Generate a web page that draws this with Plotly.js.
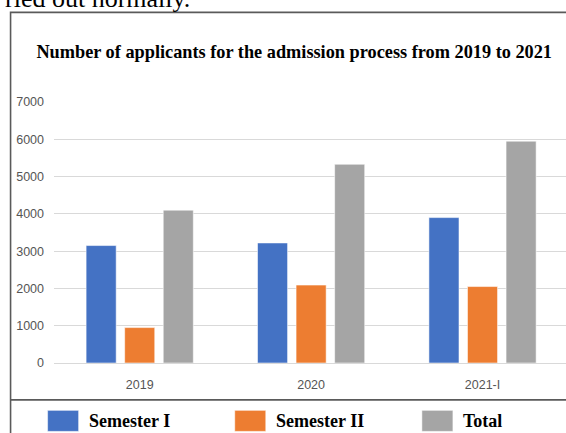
<!DOCTYPE html>
<html>
<head>
<meta charset="utf-8">
<script src="https://cdn.plot.ly/plotly-3.0.1.min.js"></script>
<style>html,body{margin:0;padding:0;background:#fff;}#chart{width:566px;height:433px;}</style>
</head>
<body>
<div id="chart"></div>
<script>
// ---- data ----
const categories = ["2019", "2020", "2021-I"];
const seriesNames = ["Semester I", "Semester II", "Total"];
const semester1 = [3150, 3220, 3900];
const semester2 = [950, 2090, 2050];
const total = [4100, 5330, 5950];
const yTicks = [0, 1000, 2000, 3000, 4000, 5000, 6000, 7000];
const colors = ["#4472C4", "#ED7D31", "#A5A5A5"];
const titleText = "Number of applicants for the admission process from 2019 to 2021";
const topText = "ried out normally.";

// ---- geometry helpers (pixel -> paper) ----
const W = 566, H = 433;
const M = {l: 54.4, r: 0, t: 102, b: 70.3};
const PW = W - M.l - M.r, PH = H - M.t - M.b;
const px = x => (x - M.l) / PW;
const py = y => (H - M.b - y) / PH;

const values = [semester1, semester2, total];
const traces = values.map((v, i) => ({
  type: "bar",
  name: seriesNames[i],
  x: categories,
  y: v,
  marker: {color: colors[i], line: {color: "rgba(255,255,255,0.55)", width: 1}},
  showlegend: false,
  hoverinfo: "x+y+name"
}));

const tickFont = {family: "Liberation Sans, Arial, sans-serif", size: 12.5, color: "#555555"};

// custom legend (large swatches as in the reference)
const legendSwatchX = [48, 235, 422];
const shapes = [
  // outer border of chart box
  {type: "rect", xref: "paper", yref: "paper", x0: px(11), x1: px(590), y0: py(12.5), y1: py(460),
   line: {color: "#5a5a5a", width: 1.6}, fillcolor: "rgba(0,0,0,0)", layer: "below"},
  // separator above legend
  {type: "line", xref: "paper", yref: "paper", x0: px(11), x1: px(590), y0: py(399.5), y1: py(399.5),
   line: {color: "#5a5a5a", width: 1.6}}
];
const annotations = [
  {text: topText, xref: "paper", yref: "paper", x: px(3), y: py(-1), xanchor: "left", yanchor: "middle",
   showarrow: false, font: {family: "Liberation Serif, Times New Roman, serif", size: 26, color: "#000"}}
];
seriesNames.forEach((n, i) => {
  const x0 = legendSwatchX[i];
  shapes.push({type: "rect", xref: "paper", yref: "paper", x0: px(x0), x1: px(x0 + 31), y0: py(410), y1: py(431),
    fillcolor: colors[i], line: {color: "rgba(255,255,255,0.5)", width: 1}});
  annotations.push({text: n, xref: "paper", yref: "paper", x: px(x0 + 39), y: py(421), xanchor: "left", yanchor: "middle",
    showarrow: false, font: {family: "Liberation Serif, Times New Roman, serif", size: 18, color: "#000", weight: "bold"}});
});

const layout = {
  width: W, height: H,
  margin: M,
  paper_bgcolor: "#fff", plot_bgcolor: "#fff",
  title: {text: "<b>" + titleText + "</b>", xref: "container", yref: "container",
          x: 294.2 / W, y: 1 - 52 / H, xanchor: "center", yanchor: "middle",
          font: {family: "Liberation Serif, Times New Roman, serif", size: 18.3, color: "#000"}},
  barmode: "group",
  bargap: 0.325,
  bargroupgap: 0.22,
  xaxis: {type: "category", range: [-0.5, 2.487], showgrid: false, zeroline: false, showline: false,
          ticks: "", tickfont: tickFont, ticklabelstandoff: 12, fixedrange: true},
  yaxis: {range: [0, 7000], tickvals: yTicks, ticktext: yTicks.map(String), showgrid: true, gridcolor: "#D9D9D9",
          gridwidth: 1, zeroline: true, zerolinecolor: "#D9D9D9", zerolinewidth: 1, showline: false,
          ticks: "", tickfont: tickFont, ticklabelstandoff: 9, fixedrange: true},
  shapes: shapes,
  annotations: annotations
};

Plotly.newPlot("chart", traces, layout, {displayModeBar: false, staticPlot: true});
</script>
</body>
</html>
